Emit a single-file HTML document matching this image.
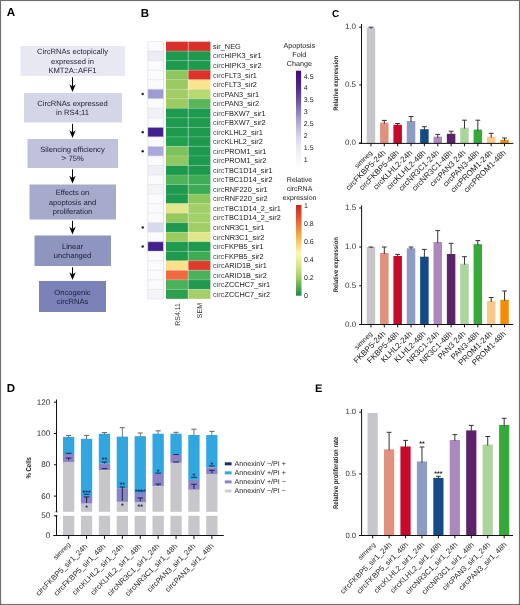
<!DOCTYPE html>
<html><head><meta charset="utf-8"><style>
html,body{margin:0;padding:0;background:#fff;}
svg{display:block;font-family:"Liberation Sans", sans-serif;will-change:transform;text-rendering:geometricPrecision;}
</style></head><body>
<svg width="520" height="605" viewBox="0 0 520 605" font-family='"Liberation Sans", sans-serif'>
<rect x="0" y="0" width="520" height="605" fill="#fff"/>
<text x="6.8" y="16.4" font-size="11.6" fill="#000" text-anchor="start" font-weight="bold" >A</text>
<text x="140.8" y="16.8" font-size="11.5" fill="#000" text-anchor="start" font-weight="bold" >B</text>
<text x="332" y="16.5" font-size="10" fill="#000" text-anchor="start" font-weight="bold" >C</text>
<text x="6.8" y="392.2" font-size="11.5" fill="#000" text-anchor="start" font-weight="bold" >D</text>
<text x="315" y="392" font-size="11" fill="#000" text-anchor="start" font-weight="bold" >E</text>
<rect x="20.50" y="46.00" width="104.50" height="30.00" fill="#e8e8f3" />
<text x="72.5" y="54.400000000000006" font-size="7.6" fill="#1c1e34" text-anchor="middle" font-weight="normal" >CircRNAs ectopically</text>
<text x="72.5" y="63.7" font-size="7.6" fill="#1c1e34" text-anchor="middle" font-weight="normal" >expressed in</text>
<text x="72.5" y="73.0" font-size="7.6" fill="#1c1e34" text-anchor="middle" font-weight="normal" >KMT2A::AFF1</text>
<line x1="72.50" y1="77.30" x2="72.50" y2="88.00" stroke="#000" stroke-width="1.0" />
<path d="M69.3,84.2 L72.5,92.0 L75.7,84.2 L72.5,86.4 Z" fill="#000"/>
<rect x="24.00" y="93.00" width="98.00" height="29.50" fill="#d4d5e7" />
<text x="72.5" y="105.8" font-size="7.6" fill="#1c1e34" text-anchor="middle" font-weight="normal" >CircRNAs expressed</text>
<text x="72.5" y="115.10000000000001" font-size="7.6" fill="#1c1e34" text-anchor="middle" font-weight="normal" >in RS4;11</text>
<line x1="72.50" y1="123.80" x2="72.50" y2="134.00" stroke="#000" stroke-width="1.0" />
<path d="M69.3,130.2 L72.5,138.0 L75.7,130.2 L72.5,132.4 Z" fill="#000"/>
<rect x="27.50" y="139.00" width="90.50" height="29.00" fill="#c0c2dc" />
<text x="72.5" y="151.54999999999998" font-size="7.6" fill="#1c1e34" text-anchor="middle" font-weight="normal" >Silencing efficiency</text>
<text x="72.5" y="160.85" font-size="7.6" fill="#1c1e34" text-anchor="middle" font-weight="normal" ><tspan font-size="8.6">&gt;</tspan> 75%</text>
<line x1="72.50" y1="169.30" x2="72.50" y2="179.50" stroke="#000" stroke-width="1.0" />
<path d="M69.3,175.7 L72.5,183.5 L75.7,175.7 L72.5,177.9 Z" fill="#000"/>
<rect x="29.50" y="184.50" width="86.50" height="35.00" fill="#a6abcc" />
<text x="72.5" y="195.39999999999998" font-size="7.6" fill="#1c1e34" text-anchor="middle" font-weight="normal" >Effects on</text>
<text x="72.5" y="204.7" font-size="7.6" fill="#1c1e34" text-anchor="middle" font-weight="normal" >apoptosis and</text>
<text x="72.5" y="214.0" font-size="7.6" fill="#1c1e34" text-anchor="middle" font-weight="normal" >proliferation</text>
<line x1="72.50" y1="220.80" x2="72.50" y2="230.50" stroke="#000" stroke-width="1.0" />
<path d="M69.3,226.7 L72.5,234.5 L75.7,226.7 L72.5,228.9 Z" fill="#000"/>
<rect x="34.50" y="235.50" width="76.50" height="30.50" fill="#8e95be" />
<text x="72.5" y="248.79999999999998" font-size="7.6" fill="#1c1e34" text-anchor="middle" font-weight="normal" >Linear</text>
<text x="72.5" y="258.1" font-size="7.6" fill="#1c1e34" text-anchor="middle" font-weight="normal" >unchanged</text>
<line x1="72.50" y1="267.30" x2="72.50" y2="276.00" stroke="#000" stroke-width="1.0" />
<path d="M69.3,272.2 L72.5,280.0 L75.7,272.2 L72.5,274.4 Z" fill="#000"/>
<rect x="39.00" y="281.00" width="67.00" height="31.00" fill="#7a82b7" />
<text x="72.5" y="294.55" font-size="7.6" fill="#1c1e34" text-anchor="middle" font-weight="normal" >Oncogenic</text>
<text x="72.5" y="303.84999999999997" font-size="7.6" fill="#1c1e34" text-anchor="middle" font-weight="normal" >circRNAs</text>
<rect x="147.70" y="41.60" width="15.80" height="9.53" fill="#fbfbfd" />
<rect x="166.00" y="41.60" width="22.20" height="9.53" fill="#d9302a" />
<rect x="188.20" y="41.60" width="22.20" height="9.53" fill="#d9302a" />
<text x="213" y="48.915" font-size="7.35" fill="#222" text-anchor="start" font-weight="normal" >sir_NEG</text>
<rect x="147.70" y="51.13" width="15.80" height="9.53" fill="#ececf5" />
<rect x="166.00" y="51.13" width="22.20" height="9.53" fill="#1e9a4e" />
<rect x="188.20" y="51.13" width="22.20" height="9.53" fill="#1e9a4e" />
<text x="213" y="58.445" font-size="7.35" fill="#222" text-anchor="start" font-weight="normal" ><tspan fill="#4a4a52">circ</tspan>HIPK3_sir1</text>
<rect x="147.70" y="60.66" width="15.80" height="9.53" fill="#fbfbfd" />
<rect x="166.00" y="60.66" width="22.20" height="9.53" fill="#1e9a4e" />
<rect x="188.20" y="60.66" width="22.20" height="9.53" fill="#1e9a4e" />
<text x="213" y="67.975" font-size="7.35" fill="#222" text-anchor="start" font-weight="normal" ><tspan fill="#4a4a52">circ</tspan>HIPK3_sir2</text>
<rect x="147.70" y="70.19" width="15.80" height="9.53" fill="#fbfbfd" />
<rect x="166.00" y="70.19" width="22.20" height="9.53" fill="#8fc65e" />
<rect x="188.20" y="70.19" width="22.20" height="9.53" fill="#de3129" />
<text x="213" y="77.505" font-size="7.35" fill="#222" text-anchor="start" font-weight="normal" ><tspan fill="#4a4a52">circ</tspan>FLT3_sir1</text>
<rect x="147.70" y="79.72" width="15.80" height="9.53" fill="#fbfbfd" />
<rect x="166.00" y="79.72" width="22.20" height="9.53" fill="#9bca62" />
<rect x="188.20" y="79.72" width="22.20" height="9.53" fill="#fce38e" />
<text x="213" y="87.035" font-size="7.35" fill="#222" text-anchor="start" font-weight="normal" ><tspan fill="#4a4a52">circ</tspan>FLT3_sir2</text>
<rect x="147.70" y="89.25" width="15.80" height="9.53" fill="#9e9bd2" />
<rect x="166.00" y="89.25" width="22.20" height="9.53" fill="#a2cc65" />
<rect x="188.20" y="89.25" width="22.20" height="9.53" fill="#b6d974" />
<text x="213" y="96.565" font-size="7.35" fill="#222" text-anchor="start" font-weight="normal" ><tspan fill="#4a4a52">circ</tspan>PAN3_sir1</text>
<circle cx="142.7" cy="94.02" r="1.2" fill="#222"/>
<rect x="147.70" y="98.78" width="15.80" height="9.53" fill="#fbfbfd" />
<rect x="166.00" y="98.78" width="22.20" height="9.53" fill="#9ccb62" />
<rect x="188.20" y="98.78" width="22.20" height="9.53" fill="#5ab65a" />
<text x="213" y="106.095" font-size="7.35" fill="#222" text-anchor="start" font-weight="normal" ><tspan fill="#4a4a52">circ</tspan>PAN3_sir2</text>
<rect x="147.70" y="108.31" width="15.80" height="9.53" fill="#f0f0f6" />
<rect x="166.00" y="108.31" width="22.20" height="9.53" fill="#1e9a4e" />
<rect x="188.20" y="108.31" width="22.20" height="9.53" fill="#1e9a4e" />
<text x="213" y="115.625" font-size="7.35" fill="#222" text-anchor="start" font-weight="normal" ><tspan fill="#4a4a52">circ</tspan>FBXW7_sir1</text>
<rect x="147.70" y="117.84" width="15.80" height="9.53" fill="#fbfbfd" />
<rect x="166.00" y="117.84" width="22.20" height="9.53" fill="#1e9a4e" />
<rect x="188.20" y="117.84" width="22.20" height="9.53" fill="#1e9a4e" />
<text x="213" y="125.155" font-size="7.35" fill="#222" text-anchor="start" font-weight="normal" ><tspan fill="#4a4a52">circ</tspan>FBXW7_sir2</text>
<rect x="147.70" y="127.37" width="15.80" height="9.53" fill="#44208f" />
<rect x="166.00" y="127.37" width="22.20" height="9.53" fill="#1e9a4e" />
<rect x="188.20" y="127.37" width="22.20" height="9.53" fill="#1e9a4e" />
<text x="213" y="134.685" font-size="7.35" fill="#222" text-anchor="start" font-weight="normal" ><tspan fill="#4a4a52">circ</tspan>KLHL2_sir1</text>
<circle cx="142.7" cy="132.13" r="1.2" fill="#222"/>
<rect x="147.70" y="136.90" width="15.80" height="9.53" fill="#fbfbfd" />
<rect x="166.00" y="136.90" width="22.20" height="9.53" fill="#22a04f" />
<rect x="188.20" y="136.90" width="22.20" height="9.53" fill="#1e9a4e" />
<text x="213" y="144.215" font-size="7.35" fill="#222" text-anchor="start" font-weight="normal" ><tspan fill="#4a4a52">circ</tspan>KLHL2_sir2</text>
<rect x="147.70" y="146.43" width="15.80" height="9.53" fill="#aaa8dc" />
<rect x="166.00" y="146.43" width="22.20" height="9.53" fill="#7ec25c" />
<rect x="188.20" y="146.43" width="22.20" height="9.53" fill="#1e9a4e" />
<text x="213" y="153.745" font-size="7.35" fill="#222" text-anchor="start" font-weight="normal" ><tspan fill="#4a4a52">circ</tspan>PROM1_sir1</text>
<circle cx="142.7" cy="151.19" r="1.2" fill="#222"/>
<rect x="147.70" y="155.96" width="15.80" height="9.53" fill="#fbfbfd" />
<rect x="166.00" y="155.96" width="22.20" height="9.53" fill="#8fc760" />
<rect x="188.20" y="155.96" width="22.20" height="9.53" fill="#1e9a4e" />
<text x="213" y="163.27499999999998" font-size="7.35" fill="#222" text-anchor="start" font-weight="normal" ><tspan fill="#4a4a52">circ</tspan>PROM1_sir2</text>
<rect x="147.70" y="165.49" width="15.80" height="9.53" fill="#efeff6" />
<rect x="166.00" y="165.49" width="22.20" height="9.53" fill="#1e9a4e" />
<rect x="188.20" y="165.49" width="22.20" height="9.53" fill="#1e9a4e" />
<text x="213" y="172.80499999999998" font-size="7.35" fill="#222" text-anchor="start" font-weight="normal" ><tspan fill="#4a4a52">circ</tspan>TBC1D14_sir1</text>
<rect x="147.70" y="175.02" width="15.80" height="9.53" fill="#fbfbfd" />
<rect x="166.00" y="175.02" width="22.20" height="9.53" fill="#4fb35a" />
<rect x="188.20" y="175.02" width="22.20" height="9.53" fill="#3ead57" />
<text x="213" y="182.33499999999998" font-size="7.35" fill="#222" text-anchor="start" font-weight="normal" ><tspan fill="#4a4a52">circ</tspan>TBC1D14_sir2</text>
<rect x="147.70" y="184.55" width="15.80" height="9.53" fill="#f4f4f8" />
<rect x="166.00" y="184.55" width="22.20" height="9.53" fill="#1e9a4e" />
<rect x="188.20" y="184.55" width="22.20" height="9.53" fill="#3cab55" />
<text x="213" y="191.86499999999998" font-size="7.35" fill="#222" text-anchor="start" font-weight="normal" ><tspan fill="#4a4a52">circ</tspan>RNF220_sir1</text>
<rect x="147.70" y="194.08" width="15.80" height="9.53" fill="#fbfbfd" />
<rect x="166.00" y="194.08" width="22.20" height="9.53" fill="#1e9a4e" />
<rect x="188.20" y="194.08" width="22.20" height="9.53" fill="#8cc85e" />
<text x="213" y="201.39499999999998" font-size="7.35" fill="#222" text-anchor="start" font-weight="normal" ><tspan fill="#4a4a52">circ</tspan>RNF220_sir2</text>
<rect x="147.70" y="203.61" width="15.80" height="9.53" fill="#fbfbfd" />
<rect x="166.00" y="203.61" width="22.20" height="9.53" fill="#e2e68c" />
<rect x="188.20" y="203.61" width="22.20" height="9.53" fill="#a3cf67" />
<text x="213" y="210.92499999999998" font-size="7.35" fill="#222" text-anchor="start" font-weight="normal" ><tspan fill="#4a4a52">circ</tspan>TBC1D14_2_sir1</text>
<rect x="147.70" y="213.14" width="15.80" height="9.53" fill="#fbfbfd" />
<rect x="166.00" y="213.14" width="22.20" height="9.53" fill="#97c85e" />
<rect x="188.20" y="213.14" width="22.20" height="9.53" fill="#a4d06a" />
<text x="213" y="220.45499999999998" font-size="7.35" fill="#222" text-anchor="start" font-weight="normal" ><tspan fill="#4a4a52">circ</tspan>TBC1D14_2_sir2</text>
<rect x="147.70" y="222.67" width="15.80" height="9.53" fill="#d9d9ee" />
<rect x="166.00" y="222.67" width="22.20" height="9.53" fill="#1e9a4e" />
<rect x="188.20" y="222.67" width="22.20" height="9.53" fill="#a1cd66" />
<text x="213" y="229.98499999999999" font-size="7.35" fill="#222" text-anchor="start" font-weight="normal" ><tspan fill="#4a4a52">circ</tspan>NR3C1_sir1</text>
<circle cx="142.7" cy="227.43" r="1.2" fill="#222"/>
<rect x="147.70" y="232.20" width="15.80" height="9.53" fill="#fbfbfd" />
<rect x="166.00" y="232.20" width="22.20" height="9.53" fill="#9ccb62" />
<rect x="188.20" y="232.20" width="22.20" height="9.53" fill="#e4e48c" />
<text x="213" y="239.515" font-size="7.35" fill="#222" text-anchor="start" font-weight="normal" ><tspan fill="#4a4a52">circ</tspan>NR3C1_sir2</text>
<rect x="147.70" y="241.73" width="15.80" height="9.53" fill="#43208e" />
<rect x="166.00" y="241.73" width="22.20" height="9.53" fill="#1e9a4e" />
<rect x="188.20" y="241.73" width="22.20" height="9.53" fill="#1e9a4e" />
<text x="213" y="249.045" font-size="7.35" fill="#222" text-anchor="start" font-weight="normal" ><tspan fill="#4a4a52">circ</tspan>FKPB5_sir1</text>
<circle cx="142.7" cy="246.49" r="1.2" fill="#222"/>
<rect x="147.70" y="251.26" width="15.80" height="9.53" fill="#fbfbfd" />
<rect x="166.00" y="251.26" width="22.20" height="9.53" fill="#1e9a4e" />
<rect x="188.20" y="251.26" width="22.20" height="9.53" fill="#3eab55" />
<text x="213" y="258.575" font-size="7.35" fill="#222" text-anchor="start" font-weight="normal" ><tspan fill="#4a4a52">circ</tspan>FKPB5_sir2</text>
<rect x="147.70" y="260.79" width="15.80" height="9.53" fill="#fbfbfd" />
<rect x="166.00" y="260.79" width="22.20" height="9.53" fill="#fde08c" />
<rect x="188.20" y="260.79" width="22.20" height="9.53" fill="#e03a2c" />
<text x="213" y="268.105" font-size="7.35" fill="#222" text-anchor="start" font-weight="normal" ><tspan fill="#4a4a52">circ</tspan>ARID1B_sir1</text>
<rect x="147.70" y="270.32" width="15.80" height="9.53" fill="#fbfbfd" />
<rect x="166.00" y="270.32" width="22.20" height="9.53" fill="#f26841" />
<rect x="188.20" y="270.32" width="22.20" height="9.53" fill="#4cb15a" />
<text x="213" y="277.635" font-size="7.35" fill="#222" text-anchor="start" font-weight="normal" ><tspan fill="#4a4a52">circ</tspan>ARID1B_sir2</text>
<rect x="147.70" y="279.85" width="15.80" height="9.53" fill="#fbfbfd" />
<rect x="166.00" y="279.85" width="22.20" height="9.53" fill="#4bb05a" />
<rect x="188.20" y="279.85" width="22.20" height="9.53" fill="#1f9a4f" />
<text x="213" y="287.16499999999996" font-size="7.35" fill="#222" text-anchor="start" font-weight="normal" ><tspan fill="#4a4a52">circ</tspan>ZCCHC7_sir1</text>
<rect x="147.70" y="289.38" width="15.80" height="9.53" fill="#f4f4f8" />
<rect x="166.00" y="289.38" width="22.20" height="9.53" fill="#2aa04f" />
<rect x="188.20" y="289.38" width="22.20" height="9.53" fill="#a5ce6a" />
<text x="213" y="296.695" font-size="7.35" fill="#222" text-anchor="start" font-weight="normal" ><tspan fill="#4a4a52">circ</tspan>ZCCHC7_sir2</text>
<line x1="147.70" y1="41.60" x2="163.50" y2="41.60" stroke="#d9d9e4" stroke-width="0.5" />
<line x1="166.00" y1="41.60" x2="210.40" y2="41.60" stroke="#ffffff" stroke-width="0.5" stroke-opacity="0.35"/>
<line x1="147.70" y1="51.13" x2="163.50" y2="51.13" stroke="#d9d9e4" stroke-width="0.5" />
<line x1="166.00" y1="51.13" x2="210.40" y2="51.13" stroke="#ffffff" stroke-width="0.5" stroke-opacity="0.35"/>
<line x1="147.70" y1="60.66" x2="163.50" y2="60.66" stroke="#d9d9e4" stroke-width="0.5" />
<line x1="166.00" y1="60.66" x2="210.40" y2="60.66" stroke="#ffffff" stroke-width="0.5" stroke-opacity="0.35"/>
<line x1="147.70" y1="70.19" x2="163.50" y2="70.19" stroke="#d9d9e4" stroke-width="0.5" />
<line x1="166.00" y1="70.19" x2="210.40" y2="70.19" stroke="#ffffff" stroke-width="0.5" stroke-opacity="0.35"/>
<line x1="147.70" y1="79.72" x2="163.50" y2="79.72" stroke="#d9d9e4" stroke-width="0.5" />
<line x1="166.00" y1="79.72" x2="210.40" y2="79.72" stroke="#ffffff" stroke-width="0.5" stroke-opacity="0.35"/>
<line x1="147.70" y1="89.25" x2="163.50" y2="89.25" stroke="#d9d9e4" stroke-width="0.5" />
<line x1="166.00" y1="89.25" x2="210.40" y2="89.25" stroke="#ffffff" stroke-width="0.5" stroke-opacity="0.35"/>
<line x1="147.70" y1="98.78" x2="163.50" y2="98.78" stroke="#d9d9e4" stroke-width="0.5" />
<line x1="166.00" y1="98.78" x2="210.40" y2="98.78" stroke="#ffffff" stroke-width="0.5" stroke-opacity="0.35"/>
<line x1="147.70" y1="108.31" x2="163.50" y2="108.31" stroke="#d9d9e4" stroke-width="0.5" />
<line x1="166.00" y1="108.31" x2="210.40" y2="108.31" stroke="#ffffff" stroke-width="0.5" stroke-opacity="0.35"/>
<line x1="147.70" y1="117.84" x2="163.50" y2="117.84" stroke="#d9d9e4" stroke-width="0.5" />
<line x1="166.00" y1="117.84" x2="210.40" y2="117.84" stroke="#ffffff" stroke-width="0.5" stroke-opacity="0.35"/>
<line x1="147.70" y1="127.37" x2="163.50" y2="127.37" stroke="#d9d9e4" stroke-width="0.5" />
<line x1="166.00" y1="127.37" x2="210.40" y2="127.37" stroke="#ffffff" stroke-width="0.5" stroke-opacity="0.35"/>
<line x1="147.70" y1="136.90" x2="163.50" y2="136.90" stroke="#d9d9e4" stroke-width="0.5" />
<line x1="166.00" y1="136.90" x2="210.40" y2="136.90" stroke="#ffffff" stroke-width="0.5" stroke-opacity="0.35"/>
<line x1="147.70" y1="146.43" x2="163.50" y2="146.43" stroke="#d9d9e4" stroke-width="0.5" />
<line x1="166.00" y1="146.43" x2="210.40" y2="146.43" stroke="#ffffff" stroke-width="0.5" stroke-opacity="0.35"/>
<line x1="147.70" y1="155.96" x2="163.50" y2="155.96" stroke="#d9d9e4" stroke-width="0.5" />
<line x1="166.00" y1="155.96" x2="210.40" y2="155.96" stroke="#ffffff" stroke-width="0.5" stroke-opacity="0.35"/>
<line x1="147.70" y1="165.49" x2="163.50" y2="165.49" stroke="#d9d9e4" stroke-width="0.5" />
<line x1="166.00" y1="165.49" x2="210.40" y2="165.49" stroke="#ffffff" stroke-width="0.5" stroke-opacity="0.35"/>
<line x1="147.70" y1="175.02" x2="163.50" y2="175.02" stroke="#d9d9e4" stroke-width="0.5" />
<line x1="166.00" y1="175.02" x2="210.40" y2="175.02" stroke="#ffffff" stroke-width="0.5" stroke-opacity="0.35"/>
<line x1="147.70" y1="184.55" x2="163.50" y2="184.55" stroke="#d9d9e4" stroke-width="0.5" />
<line x1="166.00" y1="184.55" x2="210.40" y2="184.55" stroke="#ffffff" stroke-width="0.5" stroke-opacity="0.35"/>
<line x1="147.70" y1="194.08" x2="163.50" y2="194.08" stroke="#d9d9e4" stroke-width="0.5" />
<line x1="166.00" y1="194.08" x2="210.40" y2="194.08" stroke="#ffffff" stroke-width="0.5" stroke-opacity="0.35"/>
<line x1="147.70" y1="203.61" x2="163.50" y2="203.61" stroke="#d9d9e4" stroke-width="0.5" />
<line x1="166.00" y1="203.61" x2="210.40" y2="203.61" stroke="#ffffff" stroke-width="0.5" stroke-opacity="0.35"/>
<line x1="147.70" y1="213.14" x2="163.50" y2="213.14" stroke="#d9d9e4" stroke-width="0.5" />
<line x1="166.00" y1="213.14" x2="210.40" y2="213.14" stroke="#ffffff" stroke-width="0.5" stroke-opacity="0.35"/>
<line x1="147.70" y1="222.67" x2="163.50" y2="222.67" stroke="#d9d9e4" stroke-width="0.5" />
<line x1="166.00" y1="222.67" x2="210.40" y2="222.67" stroke="#ffffff" stroke-width="0.5" stroke-opacity="0.35"/>
<line x1="147.70" y1="232.20" x2="163.50" y2="232.20" stroke="#d9d9e4" stroke-width="0.5" />
<line x1="166.00" y1="232.20" x2="210.40" y2="232.20" stroke="#ffffff" stroke-width="0.5" stroke-opacity="0.35"/>
<line x1="147.70" y1="241.73" x2="163.50" y2="241.73" stroke="#d9d9e4" stroke-width="0.5" />
<line x1="166.00" y1="241.73" x2="210.40" y2="241.73" stroke="#ffffff" stroke-width="0.5" stroke-opacity="0.35"/>
<line x1="147.70" y1="251.26" x2="163.50" y2="251.26" stroke="#d9d9e4" stroke-width="0.5" />
<line x1="166.00" y1="251.26" x2="210.40" y2="251.26" stroke="#ffffff" stroke-width="0.5" stroke-opacity="0.35"/>
<line x1="147.70" y1="260.79" x2="163.50" y2="260.79" stroke="#d9d9e4" stroke-width="0.5" />
<line x1="166.00" y1="260.79" x2="210.40" y2="260.79" stroke="#ffffff" stroke-width="0.5" stroke-opacity="0.35"/>
<line x1="147.70" y1="270.32" x2="163.50" y2="270.32" stroke="#d9d9e4" stroke-width="0.5" />
<line x1="166.00" y1="270.32" x2="210.40" y2="270.32" stroke="#ffffff" stroke-width="0.5" stroke-opacity="0.35"/>
<line x1="147.70" y1="279.85" x2="163.50" y2="279.85" stroke="#d9d9e4" stroke-width="0.5" />
<line x1="166.00" y1="279.85" x2="210.40" y2="279.85" stroke="#ffffff" stroke-width="0.5" stroke-opacity="0.35"/>
<line x1="147.70" y1="289.38" x2="163.50" y2="289.38" stroke="#d9d9e4" stroke-width="0.5" />
<line x1="166.00" y1="289.38" x2="210.40" y2="289.38" stroke="#ffffff" stroke-width="0.5" stroke-opacity="0.35"/>
<line x1="147.70" y1="298.91" x2="163.50" y2="298.91" stroke="#d9d9e4" stroke-width="0.5" />
<line x1="166.00" y1="298.91" x2="210.40" y2="298.91" stroke="#ffffff" stroke-width="0.5" stroke-opacity="0.35"/>
<line x1="147.70" y1="41.60" x2="147.70" y2="298.91" stroke="#dcdaee" stroke-width="0.6" />
<line x1="163.50" y1="41.60" x2="163.50" y2="298.91" stroke="#d2cfec" stroke-width="0.6" />
<line x1="188.20" y1="41.60" x2="188.20" y2="298.91" stroke="#ffffff" stroke-width="0.6" stroke-opacity="0.6"/>
<text transform="translate(179.6,303) rotate(-90)" font-size="7" fill="#333" text-anchor="end">RS4;11</text>
<text transform="translate(201.6,303) rotate(-90)" font-size="7" fill="#333" text-anchor="end">SEM</text>
<defs><linearGradient id="gp" x1="0" y1="0" x2="0" y2="1"><stop offset="0" stop-color="#3f0a7a"/><stop offset="0.18" stop-color="#54278f"/><stop offset="0.31" stop-color="#6a51a3"/><stop offset="0.44" stop-color="#8c84c0"/><stop offset="0.56" stop-color="#b3afd7"/><stop offset="0.69" stop-color="#d4d2ea"/><stop offset="0.81" stop-color="#ebeaf4"/><stop offset="1" stop-color="#fcfbfd"/></linearGradient><linearGradient id="gr" x1="0" y1="0" x2="0" y2="1"><stop offset="0" stop-color="#c8281f"/><stop offset="0.18" stop-color="#e8653a"/><stop offset="0.36" stop-color="#f7b54e"/><stop offset="0.53" stop-color="#fdf7b4"/><stop offset="0.67" stop-color="#d5e88c"/><stop offset="0.8" stop-color="#9ccd66"/><stop offset="1" stop-color="#1b8a40"/></linearGradient></defs>
<text x="299.3" y="47.8" font-size="7.2" fill="#222" text-anchor="middle" font-weight="normal" >Apoptosis</text>
<text x="299.3" y="56.699999999999996" font-size="7.2" fill="#222" text-anchor="middle" font-weight="normal" >Fold</text>
<text x="299.3" y="65.6" font-size="7.2" fill="#222" text-anchor="middle" font-weight="normal" >Change</text>
<rect x="296.00" y="70.70" width="5.10" height="94.50" fill="url(#gp)" />
<text x="303.8" y="78.5" font-size="7.0" fill="#222" text-anchor="start" font-weight="normal" >4.5</text>
<text x="303.8" y="90.43" font-size="7.0" fill="#222" text-anchor="start" font-weight="normal" >4</text>
<text x="303.8" y="102.36" font-size="7.0" fill="#222" text-anchor="start" font-weight="normal" >3.5</text>
<text x="303.8" y="114.28999999999999" font-size="7.0" fill="#222" text-anchor="start" font-weight="normal" >3</text>
<text x="303.8" y="126.22" font-size="7.0" fill="#222" text-anchor="start" font-weight="normal" >2.5</text>
<text x="303.8" y="138.15" font-size="7.0" fill="#222" text-anchor="start" font-weight="normal" >2</text>
<text x="303.8" y="150.07999999999998" font-size="7.0" fill="#222" text-anchor="start" font-weight="normal" >1.5</text>
<text x="303.8" y="162.01" font-size="7.0" fill="#222" text-anchor="start" font-weight="normal" >1</text>
<text x="299.5" y="181.7" font-size="7.0" fill="#222" text-anchor="middle" font-weight="normal" >Relative</text>
<text x="299.5" y="190.7" font-size="7.0" fill="#222" text-anchor="middle" font-weight="normal" >circRNA</text>
<text x="299.5" y="199.7" font-size="7.0" fill="#222" text-anchor="middle" font-weight="normal" >expression</text>
<rect x="296.00" y="205.00" width="5.50" height="90.70" fill="url(#gr)" />
<text x="304" y="208.3" font-size="7.0" fill="#222" text-anchor="start" font-weight="normal" >1</text>
<text x="304" y="226.3" font-size="7.0" fill="#222" text-anchor="start" font-weight="normal" >0.8</text>
<text x="304" y="244.3" font-size="7.0" fill="#222" text-anchor="start" font-weight="normal" >0.6</text>
<text x="304" y="262.3" font-size="7.0" fill="#222" text-anchor="start" font-weight="normal" >0.4</text>
<text x="304" y="280.3" font-size="7.0" fill="#222" text-anchor="start" font-weight="normal" >0.2</text>
<text x="304" y="298.3" font-size="7.0" fill="#222" text-anchor="start" font-weight="normal" >0</text>
<rect x="366.70" y="27.70" width="8.50" height="115.70" fill="#c6c6cc" />
<rect x="380.06" y="122.70" width="8.50" height="20.70" fill="#e2917e" />
<rect x="393.42" y="124.80" width="8.50" height="18.60" fill="#c80a2a" />
<rect x="406.78" y="121.00" width="8.50" height="22.40" fill="#8d9cc2" />
<rect x="420.14" y="129.20" width="8.50" height="14.20" fill="#144b87" />
<rect x="433.50" y="136.70" width="8.50" height="6.70" fill="#ab89bc" />
<rect x="446.86" y="133.80" width="8.50" height="9.60" fill="#5b2369" />
<rect x="460.22" y="127.70" width="8.50" height="15.70" fill="#acd59e" />
<rect x="473.58" y="129.60" width="8.50" height="13.80" fill="#36a93a" />
<rect x="486.94" y="136.70" width="8.50" height="6.70" fill="#f8c98a" />
<rect x="500.30" y="139.80" width="8.50" height="3.60" fill="#f28d08" />
<line x1="370.95" y1="27.20" x2="370.95" y2="28.70" stroke="#333" stroke-width="1.0" />
<line x1="368.55" y1="27.20" x2="373.35" y2="27.20" stroke="#333" stroke-width="1.0" />
<line x1="384.31" y1="120.40" x2="384.31" y2="123.70" stroke="#333" stroke-width="1.0" />
<line x1="381.91" y1="120.40" x2="386.71" y2="120.40" stroke="#333" stroke-width="1.0" />
<line x1="397.67" y1="123.50" x2="397.67" y2="125.80" stroke="#333" stroke-width="1.0" />
<line x1="395.27" y1="123.50" x2="400.07" y2="123.50" stroke="#333" stroke-width="1.0" />
<line x1="411.03" y1="116.50" x2="411.03" y2="122.00" stroke="#333" stroke-width="1.0" />
<line x1="408.63" y1="116.50" x2="413.43" y2="116.50" stroke="#333" stroke-width="1.0" />
<line x1="424.39" y1="126.70" x2="424.39" y2="130.20" stroke="#333" stroke-width="1.0" />
<line x1="421.99" y1="126.70" x2="426.79" y2="126.70" stroke="#333" stroke-width="1.0" />
<line x1="437.75" y1="134.40" x2="437.75" y2="137.70" stroke="#333" stroke-width="1.0" />
<line x1="435.35" y1="134.40" x2="440.15" y2="134.40" stroke="#333" stroke-width="1.0" />
<line x1="451.11" y1="131.20" x2="451.11" y2="134.80" stroke="#333" stroke-width="1.0" />
<line x1="448.71" y1="131.20" x2="453.51" y2="131.20" stroke="#333" stroke-width="1.0" />
<line x1="464.47" y1="120.20" x2="464.47" y2="128.70" stroke="#333" stroke-width="1.0" />
<line x1="462.07" y1="120.20" x2="466.87" y2="120.20" stroke="#333" stroke-width="1.0" />
<line x1="477.83" y1="120.20" x2="477.83" y2="130.60" stroke="#333" stroke-width="1.0" />
<line x1="475.43" y1="120.20" x2="480.23" y2="120.20" stroke="#333" stroke-width="1.0" />
<line x1="491.19" y1="133.30" x2="491.19" y2="137.70" stroke="#333" stroke-width="1.0" />
<line x1="488.79" y1="133.30" x2="493.59" y2="133.30" stroke="#333" stroke-width="1.0" />
<line x1="504.55" y1="138.00" x2="504.55" y2="140.80" stroke="#333" stroke-width="1.0" />
<line x1="502.15" y1="138.00" x2="506.95" y2="138.00" stroke="#333" stroke-width="1.0" />
<line x1="361.50" y1="24.00" x2="361.50" y2="143.80" stroke="#111" stroke-width="1.0" />
<line x1="358.90" y1="143.40" x2="513.30" y2="143.40" stroke="#111" stroke-width="1.0" />
<line x1="359.10" y1="27.20" x2="361.50" y2="27.20" stroke="#111" stroke-width="1.0" />
<text x="356.0" y="29.3" font-size="8.0" fill="#333" text-anchor="end" font-weight="normal" >1.0</text>
<line x1="359.10" y1="85.00" x2="361.50" y2="85.00" stroke="#111" stroke-width="1.0" />
<text x="356.0" y="87.1" font-size="8.0" fill="#333" text-anchor="end" font-weight="normal" >0.5</text>
<line x1="359.10" y1="143.00" x2="361.50" y2="143.00" stroke="#111" stroke-width="1.0" />
<text x="356.0" y="145.1" font-size="8.0" fill="#333" text-anchor="end" font-weight="normal" >0.0</text>
<line x1="370.95" y1="143.40" x2="370.95" y2="146.30" stroke="#111" stroke-width="1.0" />
<line x1="384.31" y1="143.40" x2="384.31" y2="146.30" stroke="#111" stroke-width="1.0" />
<line x1="397.67" y1="143.40" x2="397.67" y2="146.30" stroke="#111" stroke-width="1.0" />
<line x1="411.03" y1="143.40" x2="411.03" y2="146.30" stroke="#111" stroke-width="1.0" />
<line x1="424.39" y1="143.40" x2="424.39" y2="146.30" stroke="#111" stroke-width="1.0" />
<line x1="437.75" y1="143.40" x2="437.75" y2="146.30" stroke="#111" stroke-width="1.0" />
<line x1="451.11" y1="143.40" x2="451.11" y2="146.30" stroke="#111" stroke-width="1.0" />
<line x1="464.47" y1="143.40" x2="464.47" y2="146.30" stroke="#111" stroke-width="1.0" />
<line x1="477.83" y1="143.40" x2="477.83" y2="146.30" stroke="#111" stroke-width="1.0" />
<line x1="491.19" y1="143.40" x2="491.19" y2="146.30" stroke="#111" stroke-width="1.0" />
<line x1="504.55" y1="143.40" x2="504.55" y2="146.30" stroke="#111" stroke-width="1.0" />
<text transform="translate(337.8,83.3) rotate(-90)" font-size="6.6" fill="#222" text-anchor="middle" font-weight="bold" textLength="55" lengthAdjust="spacingAndGlyphs">Relative expression</text>
<text transform="translate(372.75,153.30) rotate(-45)" font-size="8.0" fill="#222" text-anchor="end"><tspan font-size="6.8">simneg</tspan></text>
<text transform="translate(386.11,153.30) rotate(-45)" font-size="8.0" fill="#222" text-anchor="end"><tspan font-size="7.3">circ</tspan>FKBP5-24h</text>
<text transform="translate(399.47,153.30) rotate(-45)" font-size="8.0" fill="#222" text-anchor="end"><tspan font-size="7.3">circ</tspan>FKBP5-48h</text>
<text transform="translate(412.83,153.30) rotate(-45)" font-size="8.0" fill="#222" text-anchor="end"><tspan font-size="7.3">circ</tspan>KLHL2-24h</text>
<text transform="translate(426.19,153.30) rotate(-45)" font-size="8.0" fill="#222" text-anchor="end"><tspan font-size="7.3">circ</tspan>KLHL2-48h</text>
<text transform="translate(439.55,153.30) rotate(-45)" font-size="8.0" fill="#222" text-anchor="end"><tspan font-size="7.3">circ</tspan>NR3C1-24h</text>
<text transform="translate(452.91,153.30) rotate(-45)" font-size="8.0" fill="#222" text-anchor="end"><tspan font-size="7.3">circ</tspan>NR3C1-48h</text>
<text transform="translate(466.27,153.30) rotate(-45)" font-size="8.0" fill="#222" text-anchor="end"><tspan font-size="7.3">circ</tspan>PAN3 24h</text>
<text transform="translate(479.63,153.30) rotate(-45)" font-size="8.0" fill="#222" text-anchor="end"><tspan font-size="7.3">circ</tspan>PAN3-48h</text>
<text transform="translate(492.99,153.30) rotate(-45)" font-size="8.0" fill="#222" text-anchor="end"><tspan font-size="7.3">circ</tspan>PROM1-24h</text>
<text transform="translate(506.35,153.30) rotate(-45)" font-size="8.0" fill="#222" text-anchor="end"><tspan font-size="7.3">circ</tspan>PROM1-48h</text>
<rect x="366.70" y="247.00" width="8.50" height="77.50" fill="#c6c6cc" />
<rect x="380.06" y="253.00" width="8.50" height="71.50" fill="#e2917e" />
<rect x="393.42" y="256.00" width="8.50" height="68.50" fill="#c80a2a" />
<rect x="406.78" y="248.30" width="8.50" height="76.20" fill="#8d9cc2" />
<rect x="420.14" y="256.70" width="8.50" height="67.80" fill="#144b87" />
<rect x="433.50" y="242.00" width="8.50" height="82.50" fill="#ab89bc" />
<rect x="446.86" y="254.00" width="8.50" height="70.50" fill="#5b2369" />
<rect x="460.22" y="263.70" width="8.50" height="60.80" fill="#acd59e" />
<rect x="473.58" y="244.20" width="8.50" height="80.30" fill="#36a93a" />
<rect x="486.94" y="301.00" width="8.50" height="23.50" fill="#f8c98a" />
<rect x="500.30" y="299.80" width="8.50" height="24.70" fill="#f28d08" />
<line x1="370.95" y1="247.00" x2="370.95" y2="248.00" stroke="#333" stroke-width="1.0" />
<line x1="368.55" y1="247.00" x2="373.35" y2="247.00" stroke="#333" stroke-width="1.0" />
<line x1="384.31" y1="247.00" x2="384.31" y2="254.00" stroke="#333" stroke-width="1.0" />
<line x1="381.91" y1="247.00" x2="386.71" y2="247.00" stroke="#333" stroke-width="1.0" />
<line x1="397.67" y1="254.40" x2="397.67" y2="257.00" stroke="#333" stroke-width="1.0" />
<line x1="395.27" y1="254.40" x2="400.07" y2="254.40" stroke="#333" stroke-width="1.0" />
<line x1="411.03" y1="247.00" x2="411.03" y2="249.30" stroke="#333" stroke-width="1.0" />
<line x1="408.63" y1="247.00" x2="413.43" y2="247.00" stroke="#333" stroke-width="1.0" />
<line x1="424.39" y1="249.40" x2="424.39" y2="257.70" stroke="#333" stroke-width="1.0" />
<line x1="421.99" y1="249.40" x2="426.79" y2="249.40" stroke="#333" stroke-width="1.0" />
<line x1="437.75" y1="230.60" x2="437.75" y2="243.00" stroke="#333" stroke-width="1.0" />
<line x1="435.35" y1="230.60" x2="440.15" y2="230.60" stroke="#333" stroke-width="1.0" />
<line x1="451.11" y1="243.30" x2="451.11" y2="255.00" stroke="#333" stroke-width="1.0" />
<line x1="448.71" y1="243.30" x2="453.51" y2="243.30" stroke="#333" stroke-width="1.0" />
<line x1="464.47" y1="256.70" x2="464.47" y2="264.70" stroke="#333" stroke-width="1.0" />
<line x1="462.07" y1="256.70" x2="466.87" y2="256.70" stroke="#333" stroke-width="1.0" />
<line x1="477.83" y1="240.60" x2="477.83" y2="245.20" stroke="#333" stroke-width="1.0" />
<line x1="475.43" y1="240.60" x2="480.23" y2="240.60" stroke="#333" stroke-width="1.0" />
<line x1="491.19" y1="297.50" x2="491.19" y2="302.00" stroke="#333" stroke-width="1.0" />
<line x1="488.79" y1="297.50" x2="493.59" y2="297.50" stroke="#333" stroke-width="1.0" />
<line x1="504.55" y1="291.00" x2="504.55" y2="300.80" stroke="#333" stroke-width="1.0" />
<line x1="502.15" y1="291.00" x2="506.95" y2="291.00" stroke="#333" stroke-width="1.0" />
<line x1="361.60" y1="205.40" x2="361.60" y2="324.90" stroke="#111" stroke-width="1.0" />
<line x1="359.00" y1="324.50" x2="513.30" y2="324.50" stroke="#111" stroke-width="1.0" />
<line x1="359.20" y1="208.00" x2="361.60" y2="208.00" stroke="#111" stroke-width="1.0" />
<text x="356.1" y="210.1" font-size="8.0" fill="#333" text-anchor="end" font-weight="normal" >1.5</text>
<line x1="359.20" y1="247.00" x2="361.60" y2="247.00" stroke="#111" stroke-width="1.0" />
<text x="356.1" y="249.1" font-size="8.0" fill="#333" text-anchor="end" font-weight="normal" >1.0</text>
<line x1="359.20" y1="285.80" x2="361.60" y2="285.80" stroke="#111" stroke-width="1.0" />
<text x="356.1" y="287.90000000000003" font-size="8.0" fill="#333" text-anchor="end" font-weight="normal" >0.5</text>
<line x1="359.20" y1="324.50" x2="361.60" y2="324.50" stroke="#111" stroke-width="1.0" />
<text x="356.1" y="326.6" font-size="8.0" fill="#333" text-anchor="end" font-weight="normal" >0.0</text>
<line x1="370.95" y1="324.50" x2="370.95" y2="327.40" stroke="#111" stroke-width="1.0" />
<line x1="384.31" y1="324.50" x2="384.31" y2="327.40" stroke="#111" stroke-width="1.0" />
<line x1="397.67" y1="324.50" x2="397.67" y2="327.40" stroke="#111" stroke-width="1.0" />
<line x1="411.03" y1="324.50" x2="411.03" y2="327.40" stroke="#111" stroke-width="1.0" />
<line x1="424.39" y1="324.50" x2="424.39" y2="327.40" stroke="#111" stroke-width="1.0" />
<line x1="437.75" y1="324.50" x2="437.75" y2="327.40" stroke="#111" stroke-width="1.0" />
<line x1="451.11" y1="324.50" x2="451.11" y2="327.40" stroke="#111" stroke-width="1.0" />
<line x1="464.47" y1="324.50" x2="464.47" y2="327.40" stroke="#111" stroke-width="1.0" />
<line x1="477.83" y1="324.50" x2="477.83" y2="327.40" stroke="#111" stroke-width="1.0" />
<line x1="491.19" y1="324.50" x2="491.19" y2="327.40" stroke="#111" stroke-width="1.0" />
<line x1="504.55" y1="324.50" x2="504.55" y2="327.40" stroke="#111" stroke-width="1.0" />
<text transform="translate(337.8,264.7) rotate(-90)" font-size="6.6" fill="#222" text-anchor="middle" font-weight="bold" textLength="55" lengthAdjust="spacingAndGlyphs">Relative expression</text>
<text transform="translate(372.75,334.40) rotate(-45)" font-size="8.0" fill="#222" text-anchor="end"><tspan font-size="6.8">simneg</tspan></text>
<text transform="translate(386.11,334.40) rotate(-45)" font-size="8.0" fill="#222" text-anchor="end">FKBP5-24h</text>
<text transform="translate(399.47,334.40) rotate(-45)" font-size="8.0" fill="#222" text-anchor="end">FKBP5-48h</text>
<text transform="translate(412.83,334.40) rotate(-45)" font-size="8.0" fill="#222" text-anchor="end">KLHL2-24h</text>
<text transform="translate(426.19,334.40) rotate(-45)" font-size="8.0" fill="#222" text-anchor="end">KLHL2-48h</text>
<text transform="translate(439.55,334.40) rotate(-45)" font-size="8.0" fill="#222" text-anchor="end">NR3C1-24h</text>
<text transform="translate(452.91,334.40) rotate(-45)" font-size="8.0" fill="#222" text-anchor="end">NR3C1-48h</text>
<text transform="translate(466.27,334.40) rotate(-45)" font-size="8.0" fill="#222" text-anchor="end">PAN3 24h</text>
<text transform="translate(479.63,334.40) rotate(-45)" font-size="8.0" fill="#222" text-anchor="end">PAN3-48h</text>
<text transform="translate(492.99,334.40) rotate(-45)" font-size="8.0" fill="#222" text-anchor="end">PROM1-24h</text>
<text transform="translate(506.35,334.40) rotate(-45)" font-size="8.0" fill="#222" text-anchor="end">PROM1-48h</text>
<rect x="367.55" y="413.00" width="10.20" height="122.50" fill="#c6c6cc" />
<rect x="383.99" y="449.40" width="10.20" height="86.10" fill="#e2917e" />
<rect x="400.43" y="446.50" width="10.20" height="89.00" fill="#c80a2a" />
<rect x="416.87" y="461.50" width="10.20" height="74.00" fill="#8d9cc2" />
<rect x="433.31" y="477.90" width="10.20" height="57.60" fill="#144b87" />
<rect x="449.75" y="440.00" width="10.20" height="95.50" fill="#ab89bc" />
<rect x="466.19" y="430.40" width="10.20" height="105.10" fill="#5b2369" />
<rect x="482.63" y="444.60" width="10.20" height="90.90" fill="#acd59e" />
<rect x="499.07" y="425.00" width="10.20" height="110.50" fill="#36a93a" />
<line x1="389.09" y1="432.30" x2="389.09" y2="450.40" stroke="#333" stroke-width="1.0" />
<line x1="386.69" y1="432.30" x2="391.49" y2="432.30" stroke="#333" stroke-width="1.0" />
<line x1="405.53" y1="440.40" x2="405.53" y2="447.50" stroke="#333" stroke-width="1.0" />
<line x1="403.13" y1="440.40" x2="407.93" y2="440.40" stroke="#333" stroke-width="1.0" />
<line x1="421.97" y1="447.00" x2="421.97" y2="462.50" stroke="#333" stroke-width="1.0" />
<line x1="419.57" y1="447.00" x2="424.37" y2="447.00" stroke="#333" stroke-width="1.0" />
<line x1="438.41" y1="476.30" x2="438.41" y2="478.90" stroke="#333" stroke-width="1.0" />
<line x1="436.01" y1="476.30" x2="440.81" y2="476.30" stroke="#333" stroke-width="1.0" />
<line x1="454.85" y1="434.60" x2="454.85" y2="441.00" stroke="#333" stroke-width="1.0" />
<line x1="452.45" y1="434.60" x2="457.25" y2="434.60" stroke="#333" stroke-width="1.0" />
<line x1="471.29" y1="425.40" x2="471.29" y2="431.40" stroke="#333" stroke-width="1.0" />
<line x1="468.89" y1="425.40" x2="473.69" y2="425.40" stroke="#333" stroke-width="1.0" />
<line x1="487.73" y1="436.50" x2="487.73" y2="445.60" stroke="#333" stroke-width="1.0" />
<line x1="485.33" y1="436.50" x2="490.13" y2="436.50" stroke="#333" stroke-width="1.0" />
<line x1="504.17" y1="418.30" x2="504.17" y2="426.00" stroke="#333" stroke-width="1.0" />
<line x1="501.77" y1="418.30" x2="506.57" y2="418.30" stroke="#333" stroke-width="1.0" />
<line x1="361.60" y1="409.00" x2="361.60" y2="535.90" stroke="#111" stroke-width="1.0" />
<line x1="359.00" y1="535.50" x2="513.00" y2="535.50" stroke="#111" stroke-width="1.0" />
<line x1="359.20" y1="412.20" x2="361.60" y2="412.20" stroke="#111" stroke-width="1.0" />
<text x="356.1" y="414.3" font-size="7.7" fill="#333" text-anchor="end" font-weight="normal" >1.0</text>
<line x1="359.20" y1="473.85" x2="361.60" y2="473.85" stroke="#111" stroke-width="1.0" />
<text x="356.1" y="475.95000000000005" font-size="7.7" fill="#333" text-anchor="end" font-weight="normal" >0.5</text>
<line x1="359.20" y1="535.50" x2="361.60" y2="535.50" stroke="#111" stroke-width="1.0" />
<text x="356.1" y="537.6" font-size="7.7" fill="#333" text-anchor="end" font-weight="normal" >0.0</text>
<line x1="372.65" y1="535.50" x2="372.65" y2="538.40" stroke="#111" stroke-width="1.0" />
<line x1="389.09" y1="535.50" x2="389.09" y2="538.40" stroke="#111" stroke-width="1.0" />
<line x1="405.53" y1="535.50" x2="405.53" y2="538.40" stroke="#111" stroke-width="1.0" />
<line x1="421.97" y1="535.50" x2="421.97" y2="538.40" stroke="#111" stroke-width="1.0" />
<line x1="438.41" y1="535.50" x2="438.41" y2="538.40" stroke="#111" stroke-width="1.0" />
<line x1="454.85" y1="535.50" x2="454.85" y2="538.40" stroke="#111" stroke-width="1.0" />
<line x1="471.29" y1="535.50" x2="471.29" y2="538.40" stroke="#111" stroke-width="1.0" />
<line x1="487.73" y1="535.50" x2="487.73" y2="538.40" stroke="#111" stroke-width="1.0" />
<line x1="504.17" y1="535.50" x2="504.17" y2="538.40" stroke="#111" stroke-width="1.0" />
<text transform="translate(338.0,472.8) rotate(-90)" font-size="6.9" fill="#222" text-anchor="middle" font-weight="bold" textLength="72.5" lengthAdjust="spacingAndGlyphs">Relative proliferation rate</text>
<text transform="translate(375.75,545.20) rotate(-45)" font-size="7.6" fill="#222" text-anchor="end"><tspan font-size="6.6">simneg</tspan></text>
<text transform="translate(392.19,545.20) rotate(-45)" font-size="7.6" fill="#222" text-anchor="end">circFKBP5_sir1_24h</text>
<text transform="translate(408.63,545.20) rotate(-45)" font-size="7.6" fill="#222" text-anchor="end">circFKBP5_sir1_48h</text>
<text transform="translate(425.07,545.20) rotate(-45)" font-size="7.6" fill="#222" text-anchor="end">circKLHL2_sir1_24h</text>
<text transform="translate(441.51,545.20) rotate(-45)" font-size="7.6" fill="#222" text-anchor="end">circKLHL2_sir1_48h</text>
<text transform="translate(457.95,545.20) rotate(-45)" font-size="7.6" fill="#222" text-anchor="end">circNR3C1_sir1_24h</text>
<text transform="translate(474.39,545.20) rotate(-45)" font-size="7.6" fill="#222" text-anchor="end">circNR3C1_sir1_48h</text>
<text transform="translate(490.83,545.20) rotate(-45)" font-size="7.6" fill="#222" text-anchor="end">circPAN3_sir1_24h</text>
<text transform="translate(507.27,545.20) rotate(-45)" font-size="7.6" fill="#222" text-anchor="end">circPAN3_sir1_48h</text>
<text x="422" y="446.2" font-size="7" fill="#222" text-anchor="middle" font-weight="bold" >**</text>
<text x="438.4" y="476.3" font-size="7" fill="#222" text-anchor="middle" font-weight="bold" >***</text>
<rect x="63.00" y="436.90" width="11.30" height="17.10" fill="#30a8df" />
<rect x="63.00" y="454.00" width="11.30" height="8.00" fill="#8b84c5" />
<rect x="63.00" y="462.00" width="11.30" height="49.80" fill="#c7c6ca" />
<rect x="63.00" y="515.80" width="11.30" height="19.70" fill="#c7c6ca" />
<line x1="68.65" y1="435.40" x2="68.65" y2="437.40" stroke="#555" stroke-width="0.8" />
<line x1="66.05" y1="435.40" x2="71.25" y2="435.40" stroke="#555" stroke-width="0.9" />
<rect x="80.90" y="438.80" width="11.30" height="57.20" fill="#30a8df" />
<rect x="80.90" y="496.00" width="11.30" height="7.70" fill="#8b84c5" />
<rect x="80.90" y="503.70" width="11.30" height="8.10" fill="#c7c6ca" />
<rect x="80.90" y="515.80" width="11.30" height="19.70" fill="#c7c6ca" />
<line x1="86.55" y1="435.40" x2="86.55" y2="439.30" stroke="#555" stroke-width="0.8" />
<line x1="83.95" y1="435.40" x2="89.15" y2="435.40" stroke="#555" stroke-width="0.9" />
<rect x="98.80" y="433.80" width="11.30" height="30.00" fill="#30a8df" />
<rect x="98.80" y="463.80" width="11.30" height="6.60" fill="#8b84c5" />
<rect x="98.80" y="470.40" width="11.30" height="41.40" fill="#c7c6ca" />
<rect x="98.80" y="515.80" width="11.30" height="19.70" fill="#c7c6ca" />
<line x1="104.45" y1="432.60" x2="104.45" y2="434.30" stroke="#555" stroke-width="0.8" />
<line x1="101.85" y1="432.60" x2="107.05" y2="432.60" stroke="#555" stroke-width="0.9" />
<rect x="116.70" y="436.60" width="11.30" height="51.60" fill="#30a8df" />
<rect x="116.70" y="488.20" width="11.30" height="13.70" fill="#8b84c5" />
<rect x="116.70" y="501.90" width="11.30" height="9.90" fill="#c7c6ca" />
<rect x="116.70" y="515.80" width="11.30" height="19.70" fill="#c7c6ca" />
<line x1="122.35" y1="427.70" x2="122.35" y2="437.10" stroke="#555" stroke-width="0.8" />
<line x1="119.75" y1="427.70" x2="124.95" y2="427.70" stroke="#555" stroke-width="0.9" />
<rect x="134.60" y="436.20" width="11.30" height="56.80" fill="#30a8df" />
<rect x="134.60" y="493.00" width="11.30" height="9.50" fill="#8b84c5" />
<rect x="134.60" y="502.50" width="11.30" height="9.30" fill="#c7c6ca" />
<rect x="134.60" y="515.80" width="11.30" height="19.70" fill="#c7c6ca" />
<line x1="140.25" y1="433.00" x2="140.25" y2="436.70" stroke="#555" stroke-width="0.8" />
<line x1="137.65" y1="433.00" x2="142.85" y2="433.00" stroke="#555" stroke-width="0.9" />
<rect x="152.50" y="433.70" width="11.30" height="40.30" fill="#30a8df" />
<rect x="152.50" y="474.00" width="11.30" height="12.40" fill="#8b84c5" />
<rect x="152.50" y="486.40" width="11.30" height="25.40" fill="#c7c6ca" />
<rect x="152.50" y="515.80" width="11.30" height="19.70" fill="#c7c6ca" />
<line x1="158.15" y1="430.80" x2="158.15" y2="434.20" stroke="#555" stroke-width="0.8" />
<line x1="155.55" y1="430.80" x2="160.75" y2="430.80" stroke="#555" stroke-width="0.9" />
<rect x="170.40" y="433.70" width="11.30" height="20.30" fill="#30a8df" />
<rect x="170.40" y="454.00" width="11.30" height="8.90" fill="#8b84c5" />
<rect x="170.40" y="462.90" width="11.30" height="48.90" fill="#c7c6ca" />
<rect x="170.40" y="515.80" width="11.30" height="19.70" fill="#c7c6ca" />
<line x1="176.05" y1="432.30" x2="176.05" y2="434.20" stroke="#555" stroke-width="0.8" />
<line x1="173.45" y1="432.30" x2="178.65" y2="432.30" stroke="#555" stroke-width="0.9" />
<rect x="188.30" y="435.00" width="11.30" height="44.90" fill="#30a8df" />
<rect x="188.30" y="479.90" width="11.30" height="9.90" fill="#8b84c5" />
<rect x="188.30" y="489.80" width="11.30" height="22.00" fill="#c7c6ca" />
<rect x="188.30" y="515.80" width="11.30" height="19.70" fill="#c7c6ca" />
<line x1="193.95" y1="429.20" x2="193.95" y2="435.50" stroke="#555" stroke-width="0.8" />
<line x1="191.35" y1="429.20" x2="196.55" y2="429.20" stroke="#555" stroke-width="0.9" />
<rect x="206.20" y="435.00" width="11.30" height="32.40" fill="#30a8df" />
<rect x="206.20" y="467.40" width="11.30" height="6.60" fill="#8b84c5" />
<rect x="206.20" y="474.00" width="11.30" height="37.80" fill="#c7c6ca" />
<rect x="206.20" y="515.80" width="11.30" height="19.70" fill="#c7c6ca" />
<line x1="211.85" y1="431.30" x2="211.85" y2="435.50" stroke="#555" stroke-width="0.8" />
<line x1="209.25" y1="431.30" x2="214.45" y2="431.30" stroke="#555" stroke-width="0.9" />
<line x1="65.85" y1="453.30" x2="71.45" y2="453.30" stroke="#1d2f66" stroke-width="1.1" />
<line x1="65.85" y1="458.10" x2="71.45" y2="458.10" stroke="#1d2f66" stroke-width="1.1" />
<line x1="68.65" y1="458.10" x2="68.65" y2="460.20" stroke="#1d2f66" stroke-width="1.1" />
<line x1="83.75" y1="494.20" x2="89.35" y2="494.20" stroke="#1d2f66" stroke-width="1.1" />
<line x1="83.75" y1="496.90" x2="89.35" y2="496.90" stroke="#1d2f66" stroke-width="1.1" />
<line x1="86.55" y1="496.90" x2="86.55" y2="503.00" stroke="#1d2f66" stroke-width="1.1" />
<line x1="101.65" y1="462.00" x2="107.25" y2="462.00" stroke="#1d2f66" stroke-width="1.1" />
<line x1="104.45" y1="462.00" x2="104.45" y2="463.50" stroke="#1d2f66" stroke-width="1.1" />
<line x1="101.65" y1="468.60" x2="107.25" y2="468.60" stroke="#1d2f66" stroke-width="1.1" />
<line x1="119.55" y1="487.00" x2="125.15" y2="487.00" stroke="#1d2f66" stroke-width="1.1" />
<line x1="122.35" y1="487.00" x2="122.35" y2="500.70" stroke="#1d2f66" stroke-width="1.1" />
<line x1="137.45" y1="490.90" x2="143.05" y2="490.90" stroke="#1d2f66" stroke-width="1.1" />
<line x1="137.45" y1="498.00" x2="143.05" y2="498.00" stroke="#1d2f66" stroke-width="1.1" />
<line x1="140.25" y1="498.00" x2="140.25" y2="501.30" stroke="#1d2f66" stroke-width="1.1" />
<line x1="155.35" y1="473.10" x2="160.95" y2="473.10" stroke="#1d2f66" stroke-width="1.1" />
<line x1="155.35" y1="484.00" x2="160.95" y2="484.00" stroke="#1d2f66" stroke-width="1.1" />
<line x1="158.15" y1="484.00" x2="158.15" y2="485.80" stroke="#1d2f66" stroke-width="1.1" />
<line x1="173.25" y1="454.50" x2="178.85" y2="454.50" stroke="#1d2f66" stroke-width="1.1" />
<line x1="173.25" y1="462.00" x2="178.85" y2="462.00" stroke="#1d2f66" stroke-width="1.1" />
<line x1="191.15" y1="477.30" x2="196.75" y2="477.30" stroke="#1d2f66" stroke-width="1.1" />
<line x1="191.15" y1="484.30" x2="196.75" y2="484.30" stroke="#1d2f66" stroke-width="1.1" />
<line x1="193.95" y1="484.30" x2="193.95" y2="489.00" stroke="#1d2f66" stroke-width="1.1" />
<line x1="209.05" y1="466.00" x2="214.65" y2="466.00" stroke="#1d2f66" stroke-width="1.1" />
<line x1="209.05" y1="470.40" x2="214.65" y2="470.40" stroke="#1d2f66" stroke-width="1.1" />
<line x1="211.85" y1="470.40" x2="211.85" y2="473.30" stroke="#1d2f66" stroke-width="1.1" />
<text x="86.55000000000001" y="494.90000000000003" font-size="7" fill="#1d2f66" text-anchor="middle" font-weight="bold" >***</text>
<text x="86.55000000000001" y="509.6" font-size="7" fill="#1d2f66" text-anchor="middle" font-weight="bold" >*</text>
<text x="104.45" y="462.1" font-size="7" fill="#1d2f66" text-anchor="middle" font-weight="bold" >**</text>
<text x="122.35" y="486.5" font-size="7" fill="#1d2f66" text-anchor="middle" font-weight="bold" >**</text>
<text x="122.35" y="508.2" font-size="7" fill="#1d2f66" text-anchor="middle" font-weight="bold" >*</text>
<text x="140.25" y="493.5" font-size="7" fill="#1d2f66" text-anchor="middle" font-weight="bold" >****</text>
<text x="140.25" y="508.6" font-size="7" fill="#1d2f66" text-anchor="middle" font-weight="bold" >**</text>
<text x="158.15" y="473.8" font-size="7" fill="#1d2f66" text-anchor="middle" font-weight="bold" >*</text>
<text x="193.95" y="477.6" font-size="7" fill="#1d2f66" text-anchor="middle" font-weight="bold" >*</text>
<text x="211.85" y="466.7" font-size="7" fill="#1d2f66" text-anchor="middle" font-weight="bold" >*</text>
<line x1="56.50" y1="399.50" x2="56.50" y2="511.80" stroke="#111" stroke-width="1.0" />
<line x1="56.50" y1="515.80" x2="56.50" y2="535.50" stroke="#111" stroke-width="1.0" />
<line x1="53.30" y1="535.50" x2="223.80" y2="535.50" stroke="#111" stroke-width="1.0" />
<line x1="55.50" y1="511.80" x2="57.50" y2="511.80" stroke="#111" stroke-width="0.9" />
<line x1="55.50" y1="515.80" x2="57.50" y2="515.80" stroke="#111" stroke-width="0.9" />
<line x1="53.90" y1="402.20" x2="56.50" y2="402.20" stroke="#111" stroke-width="1.0" />
<text x="50.3" y="404.8" font-size="8.1" fill="#333" text-anchor="end" font-weight="normal" >120</text>
<line x1="53.90" y1="433.50" x2="56.50" y2="433.50" stroke="#111" stroke-width="1.0" />
<text x="50.3" y="436.1" font-size="8.1" fill="#333" text-anchor="end" font-weight="normal" >100</text>
<line x1="53.90" y1="464.80" x2="56.50" y2="464.80" stroke="#111" stroke-width="1.0" />
<text x="50.3" y="467.40000000000003" font-size="8.1" fill="#333" text-anchor="end" font-weight="normal" >80</text>
<line x1="53.90" y1="496.10" x2="56.50" y2="496.10" stroke="#111" stroke-width="1.0" />
<text x="50.3" y="498.70000000000005" font-size="8.1" fill="#333" text-anchor="end" font-weight="normal" >60</text>
<line x1="53.90" y1="515.80" x2="56.50" y2="515.80" stroke="#111" stroke-width="1.0" />
<text x="50.3" y="518.4" font-size="8.1" fill="#333" text-anchor="end" font-weight="normal" >50</text>
<line x1="53.90" y1="535.50" x2="56.50" y2="535.50" stroke="#111" stroke-width="1.0" />
<text x="50.3" y="538.1" font-size="8.1" fill="#333" text-anchor="end" font-weight="normal" >0</text>
<text transform="translate(31.0,467.8) rotate(-90)" font-size="7.2" fill="#222" text-anchor="middle" font-weight="bold" textLength="21.5" lengthAdjust="spacingAndGlyphs">% Cells</text>
<line x1="68.65" y1="535.50" x2="68.65" y2="539.00" stroke="#111" stroke-width="1.0" />
<text transform="translate(70.95,545.00) rotate(-45)" font-size="7.65" fill="#222" text-anchor="end"><tspan font-size="6.6">simneg</tspan></text>
<line x1="86.55" y1="535.50" x2="86.55" y2="539.00" stroke="#111" stroke-width="1.0" />
<text transform="translate(87.95,547.00) rotate(-45)" font-size="7.65" fill="#222" text-anchor="end">circFKBP5_sir1_24h</text>
<line x1="104.45" y1="535.50" x2="104.45" y2="539.00" stroke="#111" stroke-width="1.0" />
<text transform="translate(105.98,546.94) rotate(-45)" font-size="7.65" fill="#222" text-anchor="end">circFKBP5_sir1_48h</text>
<line x1="122.35" y1="535.50" x2="122.35" y2="539.00" stroke="#111" stroke-width="1.0" />
<text transform="translate(124.01,546.89) rotate(-45)" font-size="7.65" fill="#222" text-anchor="end">circKLHL2_sir1_24h</text>
<line x1="140.25" y1="535.50" x2="140.25" y2="539.00" stroke="#111" stroke-width="1.0" />
<text transform="translate(142.04,546.83) rotate(-45)" font-size="7.65" fill="#222" text-anchor="end">circKLHL2_sir1_48h</text>
<line x1="158.15" y1="535.50" x2="158.15" y2="539.00" stroke="#111" stroke-width="1.0" />
<text transform="translate(160.06,546.77) rotate(-45)" font-size="7.65" fill="#222" text-anchor="end">circNR3C1_sir1_24h</text>
<line x1="176.05" y1="535.50" x2="176.05" y2="539.00" stroke="#111" stroke-width="1.0" />
<text transform="translate(178.09,546.71) rotate(-45)" font-size="7.65" fill="#222" text-anchor="end">circNR3C1_sir1_48h</text>
<line x1="193.95" y1="535.50" x2="193.95" y2="539.00" stroke="#111" stroke-width="1.0" />
<text transform="translate(196.12,546.66) rotate(-45)" font-size="7.65" fill="#222" text-anchor="end">circPAN3_sir1_24h</text>
<line x1="211.85" y1="535.50" x2="211.85" y2="539.00" stroke="#111" stroke-width="1.0" />
<text transform="translate(214.15,546.60) rotate(-45)" font-size="7.65" fill="#222" text-anchor="end">circPAN3_sir1_48h</text>
<rect x="224.80" y="462.30" width="6.80" height="3.00" fill="#1d2f66" />
<text x="234.6" y="466.25" font-size="7.1" fill="#222" text-anchor="start" font-weight="normal" >AnnexinV −/PI +</text>
<rect x="224.80" y="471.35" width="6.80" height="3.00" fill="#30a8df" />
<text x="234.6" y="475.3" font-size="7.1" fill="#222" text-anchor="start" font-weight="normal" >AnnexinV +/PI +</text>
<rect x="224.80" y="480.40" width="6.80" height="3.00" fill="#8b84c5" />
<text x="234.6" y="484.35" font-size="7.1" fill="#222" text-anchor="start" font-weight="normal" >AnnexinV +/PI −</text>
<rect x="224.80" y="489.45" width="6.80" height="3.00" fill="#d0d0d4" />
<text x="234.6" y="493.4" font-size="7.1" fill="#222" text-anchor="start" font-weight="normal" >AnnexinV −/PI −</text>
<rect x="0.5" y="0.5" width="519" height="604" fill="none" stroke="#6e6e6e" stroke-width="1.15"/>
</svg></body></html>
